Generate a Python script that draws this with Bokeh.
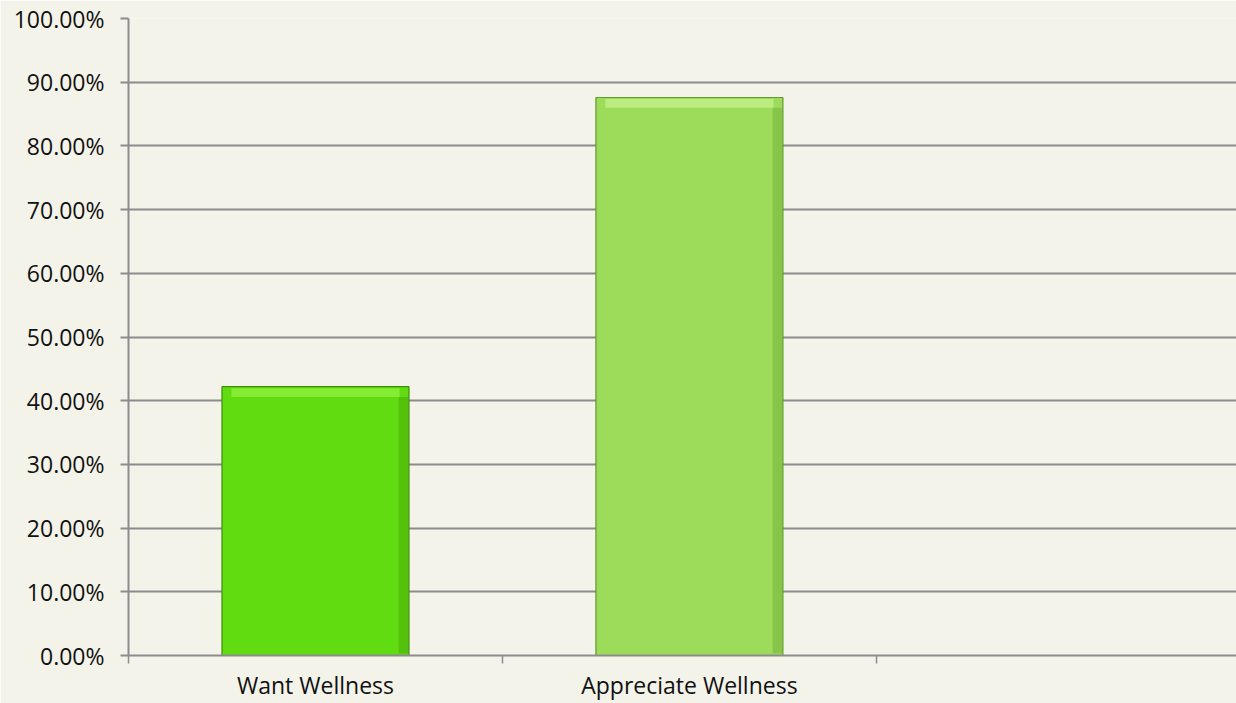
from bokeh.plotting import figure
from bokeh.models import Range1d, FixedTicker, ColumnDataSource
from bokeh.embed import file_html
from bokeh.resources import INLINE

categories = ["Want Wellness", "Appreciate Wellness"]
values = [42.2, 87.6]
bar_colors = ["#60DC10", "#9DDC5A"]
edge_colors = ["#3E8E0A", "#5E9A2C"]
highlight_colors = ["#8CF03C", "#C4F08A"]
y_ticks = [0, 10, 20, 30, 40, 50, 60, 70, 80, 90, 100]
y_labels = {t: f"{t:.2f}%" for t in y_ticks}

xs = [i + 0.5 for i in range(len(categories))]
BG = "#F4F3EA"
FONT = "Open Sans"

p = figure(width=1236, height=703, output_backend="svg", toolbar_location=None,
           x_range=Range1d(0, 2.963), y_range=Range1d(0, 100),
           min_border_left=128, min_border_right=0, min_border_top=18, min_border_bottom=48)
p.outline_line_color = None
p.background_fill_color = BG
p.border_fill_color = BG

src = ColumnDataSource(dict(x=xs, top=values, color=bar_colors, edge=edge_colors,
                            hi=highlight_colors, hi_top=[v - 0.25 for v in values],
                            hi_bot=[v - 1.6 for v in values],
                            rx=[x + 0.235 for x in xs]))
# shadow
p.vbar(x="x", width=0.5, top="top", bottom=0, source=src, fill_color="#000000",
       fill_alpha=0.08, line_color=None, level="underlay")
p.vbar(x="x", width=0.5, top="top", bottom=0, source=src, fill_color="color",
       line_color="edge", line_width=1.2)
p.vbar(x="x", width=0.45, top="hi_top", bottom="hi_bot", source=src, fill_color="hi",
       fill_alpha=0.8, line_color=None)
p.vbar(x="rx", width=0.025, top="hi_bot", bottom=0.3, source=src, fill_color="edge",
       fill_alpha=0.35, line_color=None)

# y axis
p.yaxis.ticker = FixedTicker(ticks=y_ticks)
p.yaxis.major_label_overrides = y_labels
p.yaxis.major_tick_in = 0
p.yaxis.major_tick_out = 8
p.yaxis.minor_tick_out = 0
p.yaxis.minor_tick_in = 0
p.yaxis.axis_line_color = "#8C8C8C"
p.yaxis.axis_line_width = 2
p.yaxis.major_tick_line_color = "#8C8C8C"
p.yaxis.major_tick_line_width = 2
p.yaxis.major_label_text_font = FONT
p.yaxis.major_label_text_font_size = "23px"
p.yaxis.major_label_text_color = "#111111"
p.yaxis.major_label_standoff = 16

# x axis
p.xaxis.ticker = FixedTicker(ticks=xs, minor_ticks=[0, 1, 2])
p.xaxis.major_label_overrides = {x: c for x, c in zip(xs, categories)}
p.xaxis.major_tick_out = 0
p.xaxis.major_tick_in = 0
p.xaxis.minor_tick_out = 8
p.xaxis.minor_tick_in = 0
p.xaxis.minor_tick_line_color = "#8C8C8C"
p.xaxis.minor_tick_line_width = 1.5
p.xaxis.axis_line_color = "#8C8C8C"
p.xaxis.axis_line_width = 2
p.xaxis.major_label_text_font = FONT
p.xaxis.major_label_text_font_size = "23px"
p.xaxis.major_label_text_color = "#111111"
p.xaxis.major_label_standoff = 5

p.xgrid.grid_line_color = None
p.ygrid.grid_line_color = "#8C8C8C"
p.ygrid.grid_line_width = 2

open("out.html", "w").write(file_html(p, INLINE))
